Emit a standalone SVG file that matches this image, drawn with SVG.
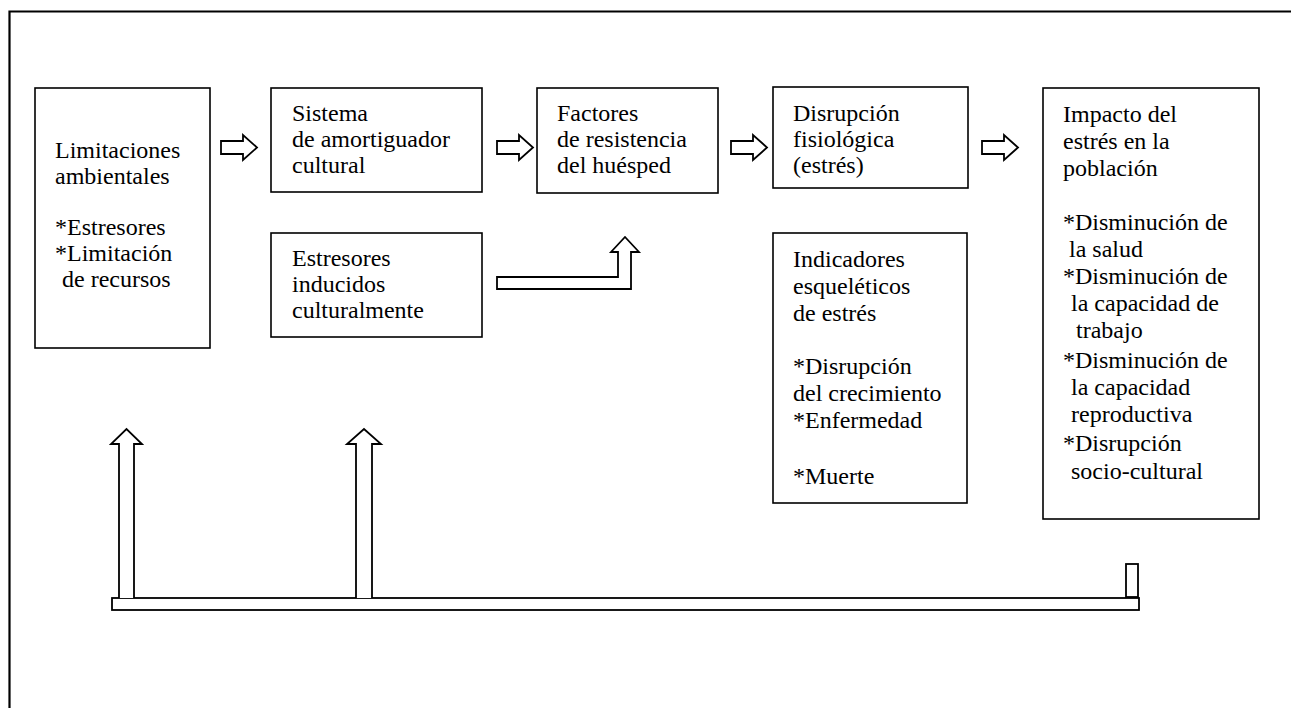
<svg xmlns="http://www.w3.org/2000/svg" width="1291" height="708" viewBox="0 0 1291 708">
<style>
.box{fill:#fff;stroke:#000;stroke-width:1.6}
.frame{fill:none;stroke:#000;stroke-width:2.2}
.arr{fill:#fff;stroke:#000;stroke-width:1.8;stroke-linejoin:miter}
text{font-family:"Liberation Serif","Times New Roman",serif;font-size:24px;fill:#000}
</style>
<rect width="1291" height="708" fill="#fff"/>
<path class="frame" d="M9.5,708 L9.5,11.5 L1291,11.5"/>
<g id="connectors">
<path class="arr" d="M221,141 H243 V135 L257,147.5 L243,160 V154 H221 Z"/>
<path class="arr" d="M497,141 H519 V135 L533,147.5 L519,160 V154 H497 Z"/>
<path class="arr" d="M731,141 H753 V135 L767,147.5 L753,160 V154 H731 Z"/>
<path class="arr" d="M982,141 H1004 V135 L1018,147.5 L1004,160 V154 H982 Z"/>
<path class="arr" d="M497,277 H618 V252 H611 L625,237 L639,252 H631 V289 H497 Z"/>
<rect class="arr" x="112" y="598" width="1027" height="12"/>
<path class="arr" d="M119,598 V444 H111 L126.5,429 L142,444 H134 V598"/>
<path class="arr" d="M356,598 V444 H347 L364,429 L381,444 H372 V598"/>
<rect class="arr" x="1126" y="564" width="12" height="33"/>
</g>
<g id="n1">
<rect class="box" x="35" y="88" width="175" height="260"/>
<text x="55" y="158">Limitaciones</text>
<text x="55" y="184">ambientales</text>
<text x="55" y="235">*Estresores</text>
<text x="55" y="261">*Limitación</text>
<text x="62" y="287">de recursos</text>
</g>
<g id="n2">
<rect class="box" x="271" y="88" width="211" height="104"/>
<text x="292" y="121">Sistema</text>
<text x="292" y="147">de amortiguador</text>
<text x="292" y="173">cultural</text>
</g>
<g id="n3">
<rect class="box" x="271" y="233" width="211" height="104"/>
<text x="292" y="266">Estresores</text>
<text x="292" y="292">inducidos</text>
<text x="292" y="318">culturalmente</text>
</g>
<g id="n4">
<rect class="box" x="537" y="88" width="181" height="105"/>
<text x="557" y="121">Factores</text>
<text x="557" y="147">de resistencia</text>
<text x="557" y="173">del huésped</text>
</g>
<g id="n5">
<rect class="box" x="773" y="87" width="195" height="101"/>
<text x="793" y="121">Disrupción</text>
<text x="793" y="147">fisiológica</text>
<text x="793" y="173">(estrés)</text>
</g>
<g id="n6">
<rect class="box" x="773" y="233" width="194" height="270"/>
<text x="793" y="267">Indicadores</text>
<text x="793" y="294">esqueléticos</text>
<text x="793" y="321">de estrés</text>
<text x="793" y="374">*Disrupción</text>
<text x="793" y="401">del crecimiento</text>
<text x="793" y="428">*Enfermedad</text>
<text x="793" y="484">*Muerte</text>
</g>
<g id="n7">
<rect class="box" x="1043" y="88" width="216" height="431"/>
<text x="1063" y="122">Impacto del</text>
<text x="1063" y="149">estrés en la</text>
<text x="1063" y="176">población</text>
<text x="1063" y="230">*Disminución de</text>
<text x="1069" y="257">la salud</text>
<text x="1063" y="284">*Disminución de</text>
<text x="1071" y="311">la capacidad de</text>
<text x="1076" y="338">trabajo</text>
<text x="1063" y="368">*Disminución de</text>
<text x="1071" y="395">la capacidad</text>
<text x="1071" y="422">reproductiva</text>
<text x="1063" y="451">*Disrupción</text>
<text x="1071" y="479">socio-cultural</text>
</g>
</svg>
